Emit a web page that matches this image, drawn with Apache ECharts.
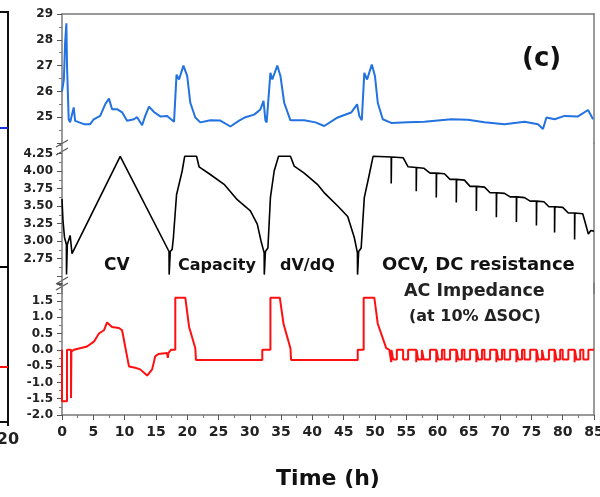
<!DOCTYPE html>
<html>
<head>
<meta charset="utf-8">
<script src="https://cdn.jsdelivr.net/npm/echarts@6/dist/echarts.min.js"></script>
<style>html,body{margin:0;padding:0;background:#fff}#c{width:600px;height:497px}</style>
</head>
<body>
<div id="c"></div>
<script>
// ---------------- DATA ----------------
const xTicks = [0,5,10,15,20,25,30,35,40,45,50,55,60,65,70,75,80,85];

// Temperature (°C) vs time (h)
const tempTime = [0,0.3,0.5,0.7,0.8,1.07,1.3,1.87,2.1,3.5,4.5,5.07,6.1,6.9,7.5,8.0,8.8,9.6,10.4,11.5,12,12.8,13.3,13.9,14.7,15.7,16.8,17.9,18.3,18.7,19.4,20.0,20.5,21.3,22.1,23.7,25.3,26.9,28.3,29.3,30.7,31.7,32.2,32.5,32.7,33.3,33.6,34.4,34.9,35.5,36.5,38.7,40.5,41.9,44.05,46.2,47.15,47.5,47.9,48.3,48.75,49.5,50.0,50.45,51.25,52.6,55.25,57.9,62.2,64.85,67.5,70.7,73.9,76.05,76.85,77.4,78.7,80.3,82.45,84.05,84.85];
const tempVal  = [26.0,26.46,27.9,28.64,27.0,24.92,24.8,25.38,24.86,24.73,24.73,24.92,25.05,25.5,25.72,25.31,25.31,25.19,24.86,24.92,25.0,24.69,25.05,25.41,25.2,25.03,25.05,24.82,26.65,26.46,27.0,26.6,25.56,24.99,24.8,24.88,24.87,24.64,24.87,25.0,25.1,25.3,25.63,24.88,24.8,26.72,26.46,27.0,26.6,25.56,24.88,24.88,24.8,24.66,24.99,25.18,25.5,25.05,24.88,26.72,26.46,27.04,26.6,25.56,24.92,24.78,24.8,24.82,24.92,24.9,24.8,24.73,24.82,24.73,24.54,24.99,24.92,25.05,25.03,25.28,24.92];

// Voltage (V) vs time (h)
const voltTime = [0,0.15,0.4,0.7,0.72,0.8,0.85,1.3,1.45,1.6,9.3,17.1,17.12,17.2,17.3,17.6,17.8,18.3,19.2,19.6,21.5,21.9,23.7,25.9,28.0,30.1,31.2,31.8,32.3,32.32,32.4,32.5,32.9,33.3,33.9,34.6,36.5,37.1,38.7,40.8,42.0,44.05,45.65,46.7,47.2,47.22,47.3,47.4,47.8,48.3,49.1,49.7,
  52.6,52.6,52.65,54.5,55.3,
  56.6,56.6,56.65,57.8,58.8,
  59.8,59.8,59.85,61.1,62.0,
  63.0,63.0,63.05,64.3,65.2,
  66.2,66.2,66.25,67.5,68.4,
  69.4,69.4,69.45,70.7,71.6,
  72.6,72.6,72.65,73.9,74.8,
  75.8,75.8,75.85,77.0,77.8,
  78.7,78.7,78.75,80.0,80.9,
  81.9,81.9,81.95,83.2,84.1,84.5,85];
const voltVal  = [3.60,3.30,3.05,2.95,2.52,2.52,2.95,3.08,3.10,2.82,4.21,2.85,2.52,2.52,2.85,2.88,3.05,3.66,4.00,4.21,4.21,4.06,3.95,3.81,3.59,3.43,3.24,3.00,2.83,2.52,2.52,2.85,2.90,3.62,4.00,4.21,4.21,4.07,3.97,3.81,3.68,3.50,3.35,3.05,2.83,2.52,2.52,2.85,2.90,3.62,3.95,4.21,
  4.20,3.82,4.20,4.19,4.06,
  4.05,3.71,4.05,4.04,3.97,
  3.97,3.62,3.97,3.96,3.88,
  3.88,3.55,3.88,3.87,3.78,
  3.78,3.43,3.78,3.77,3.69,
  3.69,3.34,3.69,3.68,3.63,
  3.63,3.27,3.63,3.62,3.57,
  3.57,3.22,3.57,3.56,3.49,
  3.49,3.12,3.49,3.48,3.40,
  3.40,3.02,3.40,3.39,3.10,3.15,3.14];

// Current (A) vs time (h)
const currTime = [0,0,0.8,0.8,1.44,1.44,1.5,1.5,1.9,4.0,5.1,5.9,6.7,7.2,8.0,9.1,9.6,10.7,11.7,12.5,13.6,14.4,14.9,15.4,16.8,16.9,17.0,17.4,18.1,18.1,19.7,20.3,21.3,21.4,32.0,32.0,33.3,33.3,34.8,35.4,36.5,36.6,47.25,47.25,48.2,48.2,49.9,50.45,51.8,52.3,
  52.6,52.6,52.65,52.65,52.9,52.9,53.5,53.5,54.5,54.5,55.3,55.3,
  56.6,56.6,56.65,56.65,56.9,56.9,57.5,57.5,57.8,57.8,58.8,58.8,
  59.8,59.8,59.85,59.85,60.1,60.1,60.7,60.7,61.1,61.1,62.0,62.0,
  63.0,63.0,63.05,63.05,63.3,63.3,63.9,63.9,64.3,64.3,65.2,65.2,
  66.2,66.2,66.25,66.25,66.5,66.5,67.1,67.1,67.5,67.5,68.4,68.4,
  69.4,69.4,69.45,69.45,69.7,69.7,70.3,70.3,70.7,70.7,71.6,71.6,
  72.6,72.6,72.65,72.65,72.9,72.9,73.5,73.5,73.9,73.9,74.8,74.8,
  75.8,75.8,75.85,75.85,76.1,76.1,76.7,76.7,77.0,77.0,77.8,77.8,
  78.7,78.7,78.75,78.75,79.0,79.0,79.6,79.6,80.0,80.0,80.9,80.9,
  81.9,81.9,81.95,81.95,82.2,82.2,82.8,82.8,83.3,83.3,84.1,84.1,85];
const currVal  = [0,-1.58,-1.58,0,0,-1.48,-1.48,-0.05,0,0.10,0.25,0.50,0.60,0.84,0.70,0.67,0.60,-0.51,-0.55,-0.60,-0.79,-0.60,-0.20,-0.13,-0.10,-0.25,-0.10,0,0,1.60,1.60,0.71,0.05,-0.31,-0.31,0,0,1.60,1.60,0.79,0.05,-0.31,-0.31,0,0,1.60,1.60,0.80,0.05,0,
  0,-0.38,-0.38,0,0,-0.30,-0.30,0,0,-0.30,-0.30,0,
  0,-0.38,-0.38,0,0,-0.30,-0.30,0,0,-0.30,-0.30,0,
  0,-0.38,-0.38,0,0,-0.30,-0.30,0,0,-0.30,-0.30,0,
  0,-0.38,-0.38,0,0,-0.30,-0.30,0,0,-0.30,-0.30,0,
  0,-0.38,-0.38,0,0,-0.30,-0.30,0,0,-0.30,-0.30,0,
  0,-0.38,-0.38,0,0,-0.30,-0.30,0,0,-0.30,-0.30,0,
  0,-0.38,-0.38,0,0,-0.30,-0.30,0,0,-0.30,-0.30,0,
  0,-0.38,-0.38,0,0,-0.30,-0.30,0,0,-0.30,-0.30,0,
  0,-0.38,-0.38,0,0,-0.30,-0.30,0,0,-0.30,-0.30,0,
  0,-0.38,-0.38,0,0,-0.30,-0.30,0,0,-0.30,-0.30,0,0];

// Stubs of the neighbouring panel (b) visible at the left edge
const leftStubTime = [0, 20];
const leftTemp = [24.58, 24.58];
const leftVolt = [2.63, 2.63];
const leftCurr = [-0.53, -0.53];
const leftXTicks = [20];

// Annotations
const stageLabels = ['CV', 'Capacity', 'dV/dQ', 'OCV, DC resistance', 'AC Impedance', '(at 10% \u0394SOC)'];
const panelTag = '(c)';

// ---------------- CHART ----------------
const zip = (a, b) => a.map((t, i) => [t, b[i]]);
const FONT = "'DejaVu Sans', 'Liberation Sans', sans-serif";
const AX = '#7a7a7a';
const LBL = '#222';

const chart = echarts.init(document.getElementById('c'), null, {renderer: 'canvas'});

const hiddenX = (g, max) => ({type: 'value', gridIndex: g, min: 0, max: max, show: false});
const borderY = (g) => ({type: 'value', gridIndex: g, position: 'right',
  axisLine: {show: true, onZero: false, lineStyle: {color: AX, width: 1.5}},
  axisTick: {show: false}, axisLabel: {show: false}, splitLine: {show: false}});
const leftY = (g, min, max, interval, fmt) => ({
  type: 'value', gridIndex: g, min: min, max: max, interval: interval,
  axisLine: {show: true, onZero: false, lineStyle: {color: AX, width: 1.5}},
  axisTick: {show: true, length: 5, lineStyle: {color: '#555'}},
  minorTick: {show: true, splitNumber: 2, length: 3, lineStyle: {color: '#777'}},
  axisLabel: {fontFamily: FONT, fontWeight: 'bold', fontSize: 12, color: LBL, margin: 9, formatter: fmt},
  splitLine: {show: false}
});
const G = (o) => Object.assign({outerBoundsMode: 'none', containLabel: false}, o);

const option = {
  animation: false,
  backgroundColor: '#fff',
  grid: [
    G({left: 62, right: 6, top: 14, height: 129}),
    G({left: 62, right: 6, top: 143, height: 150.5}),
    G({left: 62, right: 6, top: 283, height: 132}),
    G({left: -100, width: 108, top: 14, height: 129}),
    G({left: -100, width: 108, top: 143, height: 150.5}),
    G({left: -100, width: 108, top: 283, height: 132}),
    G({left: -100, width: 108, top: 12, height: 410, show: true, borderColor: '#111', borderWidth: 2, backgroundColor: 'transparent'})
  ],
  xAxis: [
    {type: 'value', gridIndex: 0, min: 0, max: 85, position: 'top',
      axisLine: {show: true, onZero: false, lineStyle: {color: AX, width: 1.5}},
      axisTick: {show: false}, axisLabel: {show: false}, splitLine: {show: false}},
    hiddenX(1, 85),
    {type: 'value', gridIndex: 2, min: 0, max: 85, interval: 5,
      axisLine: {show: true, onZero: false, lineStyle: {color: AX, width: 1.5}},
      axisTick: {show: true, length: 5, lineStyle: {color: '#555'}},
      minorTick: {show: true, splitNumber: 2, length: 3, lineStyle: {color: '#777'}},
      axisLabel: {fontFamily: FONT, fontWeight: 'bold', fontSize: 14, color: LBL, margin: 10,
        formatter: (v) => xTicks.indexOf(v) >= 0 ? String(v) : ''},
      splitLine: {show: false},
      name: 'Time (h)', nameLocation: 'middle', nameGap: 53,
      nameTextStyle: {fontFamily: FONT, fontWeight: 'bold', fontSize: 22, color: '#111'}},
    hiddenX(3, 20), hiddenX(4, 20), hiddenX(5, 20),
    {type: 'value', gridIndex: 6, min: 0, max: 20, interval: 20,
      axisLine: {show: false}, axisTick: {show: true, length: 4, lineStyle: {color: '#111', width: 2}},
      axisLabel: {fontFamily: FONT, fontWeight: 'bold', fontSize: 16, color: LBL, margin: 10,
        formatter: (v) => leftXTicks.indexOf(v) >= 0 ? String(v) : ''},
      splitLine: {show: false}}
  ],
  yAxis: [
    leftY(0, 24, 29, 1, (v) => (v >= 25 && v <= 29) ? String(v) : ''),
    borderY(0),
    leftY(1, 2.25, 4.4, 0.25, (v) => (v >= 2.74 && v <= 4.26) ? v.toFixed(2) : ''),
    borderY(1),
    leftY(2, -2, 2.05, 0.5, (v) => (v <= 1.51) ? (Math.abs(v) < 1e-9 ? '0.0' : v.toFixed(1)) : ''),
    borderY(2),
    {type: 'value', gridIndex: 3, min: 24, max: 29, show: false},
    {type: 'value', gridIndex: 4, min: 2.25, max: 4.4, show: false},
    {type: 'value', gridIndex: 5, min: -2, max: 2.05, show: false},
    {type: 'value', gridIndex: 6, min: 0, max: 1, show: false}
  ],
  series: [
    {type: 'line', xAxisIndex: 0, yAxisIndex: 0, data: zip(tempTime, tempVal), showSymbol: false,
      lineStyle: {color: '#2272e2', width: 2}},
    {type: 'line', xAxisIndex: 1, yAxisIndex: 2, data: zip(voltTime, voltVal), showSymbol: false,
      lineStyle: {color: '#000', width: 1.6}},
    {type: 'line', xAxisIndex: 2, yAxisIndex: 4, data: zip(currTime, currVal), showSymbol: false,
      lineStyle: {color: '#ff1010', width: 2}},
    {type: 'line', xAxisIndex: 3, yAxisIndex: 6, data: zip(leftStubTime, leftTemp), showSymbol: false,
      lineStyle: {color: '#1030e0', width: 2}},
    {type: 'line', xAxisIndex: 4, yAxisIndex: 7, data: zip(leftStubTime, leftVolt), showSymbol: false,
      lineStyle: {color: '#000', width: 2}},
    {type: 'line', xAxisIndex: 5, yAxisIndex: 8, data: zip(leftStubTime, leftCurr), showSymbol: false,
      lineStyle: {color: '#ff1010', width: 2}}
  ],
  graphic: [
    // axis break marks
    {type: 'line', shape: {x1: 56, y1: 147, x2: 68, y2: 140}, style: {stroke: '#555', lineWidth: 1.2}},
    {type: 'line', shape: {x1: 56, y1: 155, x2: 68, y2: 148}, style: {stroke: '#555', lineWidth: 1.2}},
    {type: 'line', shape: {x1: 56, y1: 284, x2: 68, y2: 277}, style: {stroke: '#555', lineWidth: 1.2}},
    {type: 'line', shape: {x1: 56, y1: 290, x2: 68, y2: 283}, style: {stroke: '#555', lineWidth: 1.2}},
    // annotations
    {type: 'text', left: 104, top: 257, style: {text: stageLabels[0], font: "bold 17px 'DejaVu Sans'", fill: '#111'}},
    {type: 'text', left: 178, top: 258, style: {text: stageLabels[1], font: "bold 16px 'DejaVu Sans'", fill: '#111'}},
    {type: 'text', left: 280, top: 258, style: {text: stageLabels[2], font: "bold 16px 'DejaVu Sans'", fill: '#111'}},
    {type: 'text', left: 382, top: 256, style: {text: stageLabels[3], font: "bold 18px 'DejaVu Sans'", fill: '#111'}},
    {type: 'text', left: 404, top: 282, style: {text: stageLabels[4], font: "bold 17.5px 'DejaVu Sans'", fill: '#222'}},
    {type: 'text', left: 409, top: 309, style: {text: stageLabels[5], font: "bold 16px 'DejaVu Sans'", fill: '#222'}},
    {type: 'text', left: 522, top: 46, style: {text: panelTag, font: "bold 26px 'DejaVu Sans'", fill: '#111'}}
  ]
};
chart.setOption(option);
</script>
</body>
</html>
